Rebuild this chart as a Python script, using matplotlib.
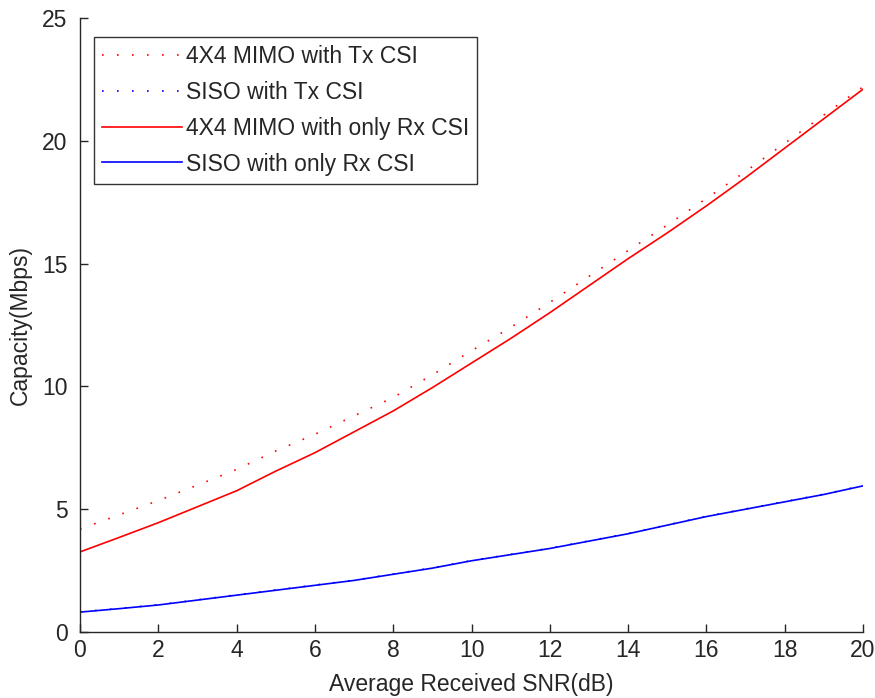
import matplotlib.pyplot as plt

plt.rcParams['font.family'] = ['Liberation Sans', 'DejaVu Sans']

# values
snr_db = [0, 1, 2, 3, 4, 5, 6, 7, 8, 9, 10, 11, 12, 13, 14, 15, 16, 17, 18, 19, 20]
mimo_tx_csi = [4.19, 4.77, 5.35, 5.98, 6.62, 7.37, 8.05, 8.80, 9.55, 10.47, 11.45,
               12.40, 13.42, 14.48, 15.53, 16.57, 17.65, 18.75, 19.90, 21.05, 22.20]
siso_tx_csi = [0.82, 0.96, 1.11, 1.31, 1.51, 1.71, 1.91, 2.11, 2.36, 2.61, 2.91,
               3.16, 3.41, 3.71, 4.01, 4.36, 4.71, 5.01, 5.31, 5.61, 5.96]
mimo_rx_csi = [3.26, 3.85, 4.45, 5.10, 5.75, 6.55, 7.30, 8.15, 9.00, 9.95, 10.95,
               11.95, 13.00, 14.10, 15.20, 16.25, 17.35, 18.50, 19.70, 20.90, 22.10]
siso_rx_csi = [0.81, 0.95, 1.10, 1.30, 1.50, 1.70, 1.90, 2.10, 2.35, 2.60, 2.90,
               3.15, 3.40, 3.70, 4.00, 4.35, 4.70, 5.00, 5.30, 5.60, 5.95]

labels = ["4X4 MIMO with Tx CSI", "SISO with Tx CSI",
          "4X4 MIMO with only Rx CSI", "SISO with only Rx CSI"]

fs = 16.5

fig = plt.figure(figsize=(8.75, 6.98), dpi=100)
ax = fig.add_axes([80 / 875, 66 / 698, 783 / 875, 614 / 698])

dots = (0, (1, 8))
ax.plot(snr_db, mimo_tx_csi, color=(1, 0, 0), linestyle=dots, linewidth=1.2, label=labels[0])
ax.plot(snr_db, siso_tx_csi, color=(0, 0, 1), linestyle=dots, linewidth=1.2, label=labels[1])
ax.plot(snr_db, mimo_rx_csi, color=(1, 0, 0), linewidth=1.2, label=labels[2])
ax.plot(snr_db, siso_rx_csi, color=(0, 0, 1), linewidth=1.2, label=labels[3])

ax.set_xlim(0, 20)
ax.set_ylim(0, 25)
ax.set_xticks(range(0, 21, 2))
ax.set_yticks(range(0, 26, 5))

# matlab look: box off, inward ticks
ax.spines['top'].set_visible(False)
ax.spines['right'].set_visible(False)
for s in ['left', 'bottom']:
    ax.spines[s].set_color('#262626')
    ax.spines[s].set_linewidth(1.0)
ax.tick_params(direction='in', length=6, width=1, colors='#262626',
               labelsize=fs, labelcolor='#262626')
ax.tick_params(axis='x', pad=5)
ax.tick_params(axis='y', pad=9)

ax.set_xlabel("Average Received SNR(dB)", fontsize=fs, color='#262626', labelpad=8)
ax.set_ylabel("Capacity(Mbps)", fontsize=fs, color='#262626', labelpad=7)

leg = ax.legend(loc='upper left', bbox_to_anchor=(94 / 875, 1 - 37 / 698),
                bbox_transform=fig.transFigure, fontsize=fs, handlelength=3.5,
                handletextpad=0.17, borderpad=0.35, labelspacing=0.56,
                frameon=True, fancybox=False, borderaxespad=0)
leg.get_frame().set_edgecolor('black')
leg.get_frame().set_linewidth(1.0)
for t in leg.get_texts():
    t.set_color('#262626')

fig.savefig("out.png", dpi=100)
